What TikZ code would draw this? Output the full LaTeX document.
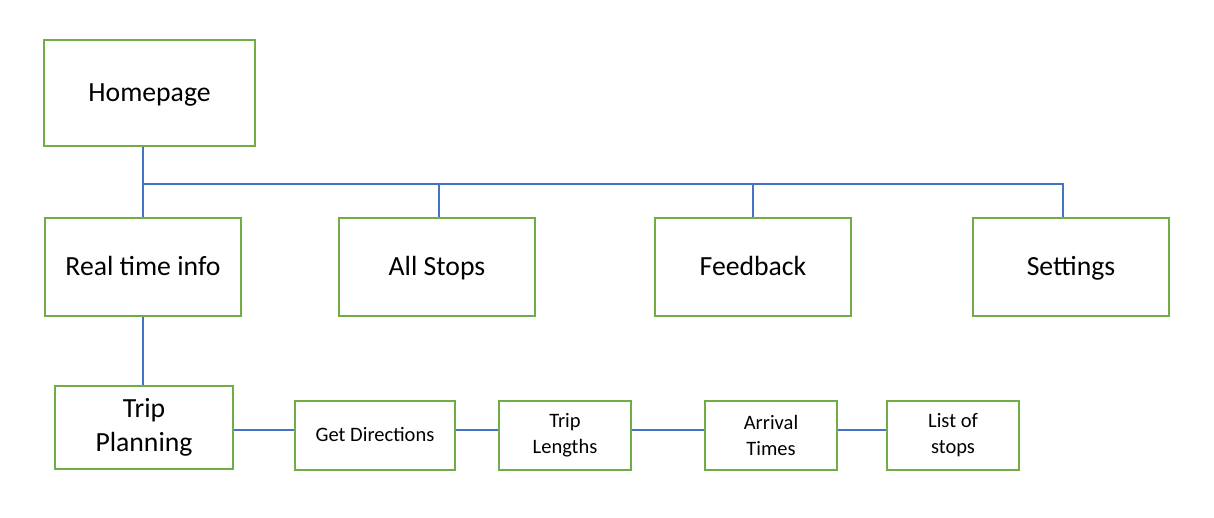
\documentclass[tikz,border=0pt]{standalone}
\usepackage{fontspec}
\setmainfont{Carlito}
\usepackage{xcolor}
\usepackage{tikz}
\usetikzlibrary{calc}
\definecolor{boxgreen}{HTML}{70AD47}
\definecolor{wireblue}{HTML}{4472C4}
\tikzset{
  box/.style={draw=boxgreen, line width=2pt, inner sep=0pt, align=center,
    font=\fontsize{27.7}{34}\selectfont},
  small/.style={box, font=\fontsize{20.5}{26}\selectfont},
  oneline/.style={text height=17.5pt, text depth=1pt},
  wire/.style={draw=wireblue, line width=2pt}
}

\begin{document}
\begin{tikzpicture}[x=1pt, y=-1pt]
  \useasboundingbox (0,0) rectangle (1214,518);

  \node[box, oneline, minimum width=211pt, minimum height=106pt] (home) at (149.5,93) {Homepage};

  \node[box, oneline, minimum width=196pt, minimum height=98pt] (rti) at (143,267) {Real time info};
  \node[box, oneline, minimum width=196pt, minimum height=98pt] (stops) at (437,267) {All Stops};
  \node[box, oneline, minimum width=196pt, minimum height=98pt] (feedback) at (753,267) {Feedback};
  \node[box, oneline, minimum width=196pt, minimum height=98pt] (settings) at (1071,267) {Settings};

  \node[box, minimum width=178pt, minimum height=83pt] (trip) at (144,427.5) {Trip\\Planning};
  \node[small, text height=13pt, text depth=1pt, minimum width=160pt, minimum height=69pt] (dirs) at (375,435) {Get Directions};
  \node[small, minimum width=132pt, minimum height=69pt] (lengths) at (565,435) {Trip\\Lengths};
  \node[small, minimum width=132pt, minimum height=69pt] (arrival) at (771,435) {Arrival\\Times};
  \node[small, minimum width=132pt, minimum height=69pt] (list) at (953,435) {List of\\stops};

  % tree
  \coordinate (bus) at (143,184);
  \coordinate (stopsdrop) at ($(stops.north)+(2,0)$);
  \coordinate (setdrop) at ($(settings.north)+(-8,0)$);
  \draw[wire] (home.south -| rti.north) -- (rti.north);
  \draw[wire] (bus) -- (setdrop |- bus) -- (setdrop);
  \draw[wire] (stopsdrop |- bus) -- (stopsdrop);
  \draw[wire] (feedback.north |- bus) -- (feedback.north);
  \draw[wire] (rti.south) -- (rti.south |- trip.north);

  % trip planning row
  \draw[wire] ($(trip.east)+(0,2.5)$) -- ($(dirs.west)+(0,-5)$);
  \draw[wire] ($(dirs.east)+(0,-5)$) -- ($(lengths.west)+(0,-5)$);
  \draw[wire] ($(lengths.east)+(0,-5)$) -- ($(arrival.west)+(0,-5)$);
  \draw[wire] ($(arrival.east)+(0,-5)$) -- ($(list.west)+(0,-5)$);
\end{tikzpicture}
\end{document}
